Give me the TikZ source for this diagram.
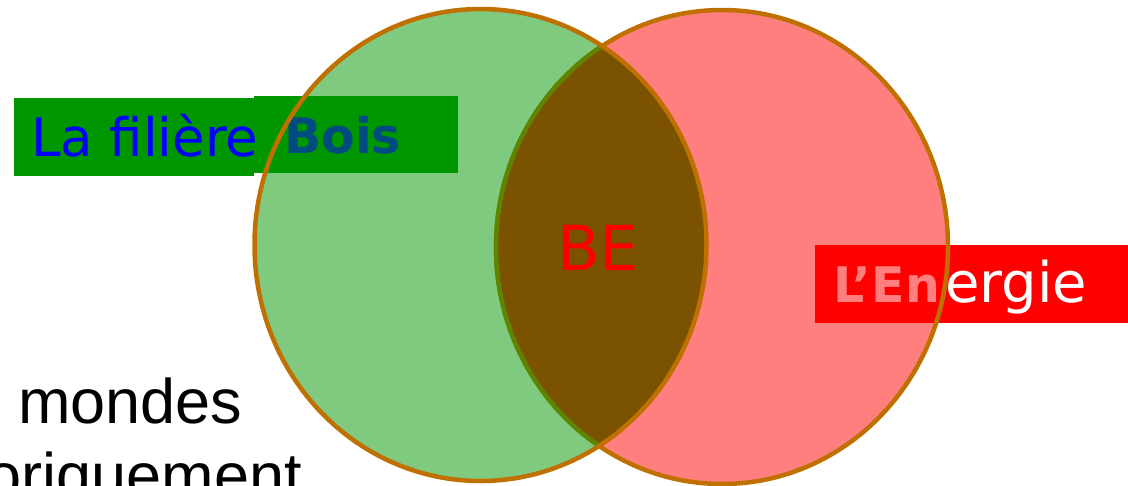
\documentclass[tikz,border=0pt]{standalone}
\usepackage{fontspec}
\newfontfamily\dvs{DejaVu Sans}
\newfontfamily\lib{Liberation Sans}
\definecolor{ringc}{RGB}{192,112,0}
\definecolor{vert}{RGB}{0,150,0}
\definecolor{brun}{RGB}{122,82,0}
\definecolor{olivec}{RGB}{96,131,0}
\tikzset{
  txt/.style={inner sep=0pt,outer sep=0pt,anchor=base west},
  ring/.style={draw=ringc,line width=4.5pt},
  greenell/.style={x radius=226pt,y radius=236pt},
  redell/.style={x radius=226pt,y radius=237pt}
}
\begin{document}
\begin{tikzpicture}[x=1pt,y=-1pt]
\useasboundingbox (0,0) rectangle (1128,485);
% ---- green label (two overlapping boxes)
\fill[vert] (254,96) rectangle (458,173);
\node[txt,text=blue,font=\dvs\bfseries\fontsize{49}{52}\selectfont] (boisb) at (284,153) {Bois};
\fill[vert] (14,98) rectangle (254,176);
\node[txt,text=blue,font=\dvs\fontsize{53}{55}\selectfont] (bois) at (31,156) {La filière};
% ---- red label
\fill[red] (815,245) rectangle (1128,323);
\begin{scope}
  \clip (722,247) ellipse [redell];
  \node[txt,text=white,font=\dvs\bfseries\fontsize{49}{52}\selectfont] (energb) at (833,302) {L’En};
\end{scope}
\node[txt,text=white,font=\dvs\fontsize{56}{58}\selectfont] (energ) at (945,302) {ergie};
% ---- circles
\fill[red,fill opacity=0.5] (722,247) ellipse [redell];
\draw[ring] (722,247) ellipse [redell];
\fill[vert,fill opacity=0.5] (480.5,245) ellipse [greenell];
\begin{scope}
  \clip (480.5,245) ellipse [greenell];
  \fill[brun] (722,247) ellipse [redell];
  \draw[draw=olivec,line width=4.5pt] (722,247) ellipse [redell];
\end{scope}
\draw[ring] (480.5,245) ellipse [greenell];
\node[inner sep=0pt,anchor=base,text=red,font=\dvs\fontsize{62}{64}\selectfont] (be) at (598,270) {BE};
% ---- black text
\node[txt,font=\lib\fontsize{63}{65}\selectfont] (mondes) at (18,423) {mondes};
\node[inner sep=0pt,anchor=base east,font=\lib\fontsize{63}{65}\selectfont] (histo) at (302,497) {oriquement};
\end{tikzpicture}
\end{document}
